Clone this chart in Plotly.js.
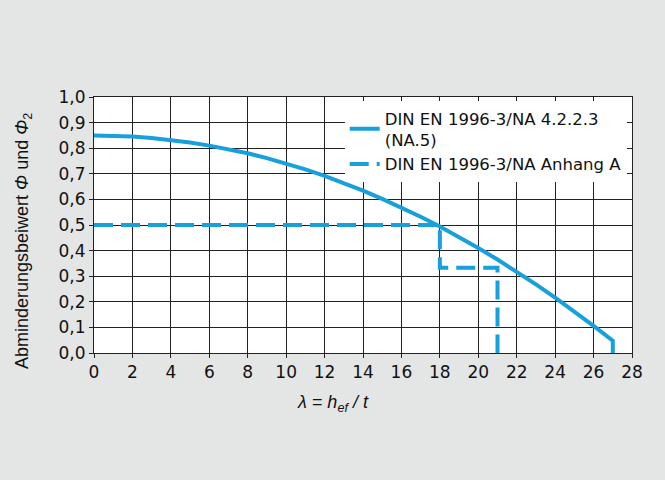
<!DOCTYPE html>
<html>
<head>
<meta charset="utf-8">
<script src="https://cdn.plot.ly/plotly-3.0.1.min.js"></script>
<style>html,body{margin:0;padding:0;background:#e4e5e5;}#chart{width:665px;height:480px;}</style>
</head>
<body>
<div id="chart"></div>
<script>
// Curve DIN EN 1996-3/NA 4.2.2.3 (NA.5)
const lambdaNA5 = [0, 1, 2, 3, 4, 5, 6, 7, 8, 9, 10, 11, 12, 13, 14, 15, 16, 17, 18, 19, 20, 21, 22, 23, 24, 25, 26, 27, 27];
const phiNA5    = [0.85, 0.849, 0.846, 0.84, 0.832, 0.822, 0.81, 0.796, 0.78, 0.761, 0.74, 0.717, 0.692, 0.664, 0.634, 0.602, 0.568, 0.532, 0.494, 0.453, 0.41, 0.365, 0.318, 0.268, 0.216, 0.162, 0.106, 0.048, 0];
// Step line DIN EN 1996-3/NA Anhang A
const lambdaAnhA = [0, 18, 18, 21, 21];
const phiAnhA    = [0.5, 0.5, 0.333, 0.333, 0];
const seriesNames = ["DIN EN 1996-3/NA 4.2.2.3<br>(NA.5)", "DIN EN 1996-3/NA Anhang A"];
const xTicks = [0, 2, 4, 6, 8, 10, 12, 14, 16, 18, 20, 22, 24, 26, 28];
const yTicks = [0, 0.1, 0.2, 0.3, 0.4, 0.5, 0.6, 0.7, 0.8, 0.9, 1.0];
const xTitle = "<i>λ = h<sub>ef</sub> / t</i>";
const yTitle = "Abminderungsbeiwert <i>Φ</i> und <i>Φ</i><sub>2</sub>";

const blue = "#17a0dc";
const font = "DejaVu Sans, Liberation Sans, Arial, sans-serif";
const font2 = "Liberation Sans, Arial, sans-serif";

const traces = [
  {x: lambdaNA5, y: phiNA5, mode: "lines", name: seriesNames[0],
   line: {color: blue, width: 4}},
  {x: lambdaAnhA, y: phiAnhA, mode: "lines", name: seriesNames[1],
   line: {color: blue, width: 4, dash: "19px,8px"}}
];

const layout = {
  width: 665, height: 480,
  paper_bgcolor: "#e4e5e5", plot_bgcolor: "#ffffff",
  separators: ",.",
  margin: {l: 94, r: 33, t: 97, b: 127},
  font: {family: font, size: 17, color: "#111"},
  showlegend: true,
  legend: {x: 0.466, xanchor: "left", y: 0.985, yanchor: "top", bgcolor: "#ffffff",
           borderwidth: 0, font: {family: font, size: 16.5, color: "#111"},
           tracegroupgap: 0},
  xaxis: {range: [0, 28], tickvals: xTicks, ticktext: xTicks.map(String),
          showgrid: true, gridcolor: "#222", gridwidth: 1,
          ticks: "outside", ticklen: 4, tickcolor: "#222",
          showline: true, linecolor: "#222", mirror: true, zeroline: false,
          tickfont: {size: 17}},
  yaxis: {range: [0, 1.0], tickvals: yTicks, tickformat: ".1f",
          showgrid: true, gridcolor: "#222", gridwidth: 1,
          ticks: "outside", ticklen: 4, tickcolor: "#222",
          showline: true, linecolor: "#222", mirror: true, zeroline: false,
          tickfont: {size: 17}},
  annotations: [
    {text: xTitle, xref: "paper", yref: "paper", x: (333 - 94) / 538, y: -(403 - 353) / 256,
     xanchor: "center", yanchor: "middle", showarrow: false,
     font: {family: font2, size: 18, color: "#111"}},
    {text: yTitle, xref: "paper", yref: "paper", x: (23 - 94) / 538, y: (353 - 241) / 256,
     xanchor: "center", yanchor: "middle", showarrow: false, textangle: -90,
     font: {family: font2, size: 18, color: "#111"}}
  ]
};

Plotly.newPlot("chart", traces, layout, {displayModeBar: false, staticPlot: true});
</script>
</body>
</html>
